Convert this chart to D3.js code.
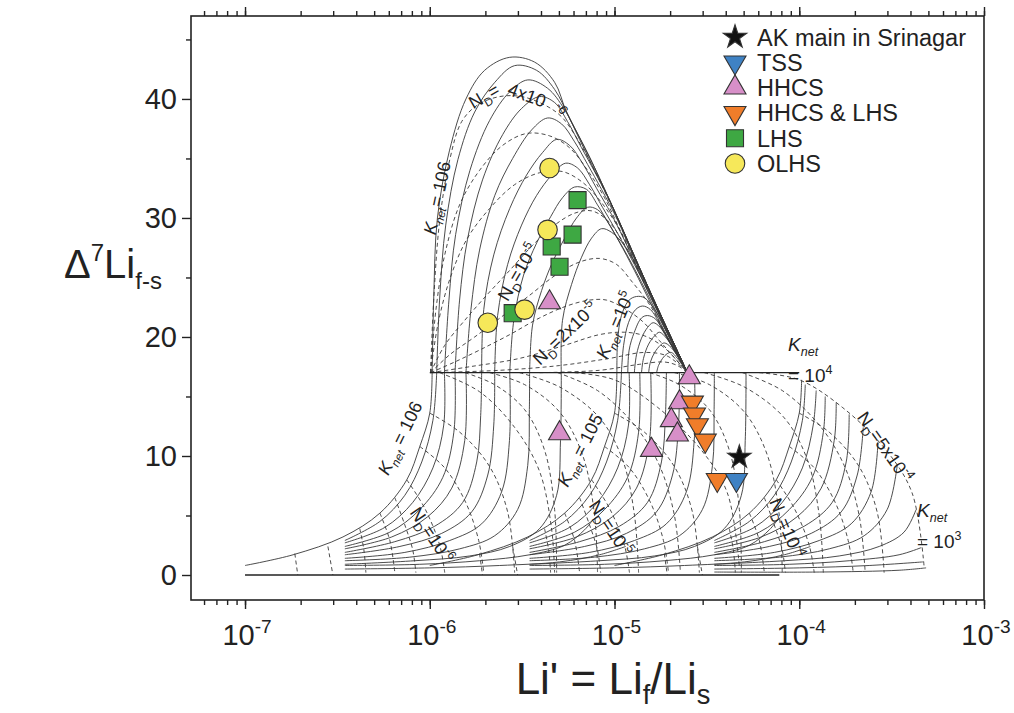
<!DOCTYPE html>
<html>
<head>
<meta charset="utf-8">
<script src="https://cdn.jsdelivr.net/npm/d3@7"></script>
<style>
  body { margin: 0; background: #fff; }
  svg { font-family: "Liberation Sans", Arial, sans-serif; }
</style>
</head>
<body>
<div id="chart"></div>
<script>
// ---- axis ticks ----
var xTicksMajor = [1e-7, 1e-6, 1e-5, 1e-4, 1e-3];
var xTickExp = ["-7", "-6", "-5", "-4", "-3"];
var yTicksMajor = [0, 10, 20, 30, 40];
var yTicksMinor = [5, 15, 25, 35, 45];

// ---- sample groups: [Li', delta7Li] ----
var akMain = [[4.74e-5, 9.9]];
var tss = [[4.57e-5, 8.0]];
var hhcs = [[4.45e-6, 22.9], [5.04e-6, 11.9], [1.585e-5, 10.5], [2.54e-5, 16.6], [2.25e-5, 14.5], [2.03e-5, 13.0], [2.19e-5, 11.8]];
var hhcsLhs = [[2.64e-5, 14.5], [2.71e-5, 13.5], [2.81e-5, 12.6], [3.10e-5, 11.3], [3.60e-5, 8.0]];
var lhs = [[6.31e-6, 31.5], [5.93e-6, 28.6], [4.57e-6, 27.6], [5.04e-6, 25.9], [2.81e-6, 22.0]];
var olhs = [[4.45e-6, 34.2], [4.34e-6, 29.0], [3.26e-6, 22.3], [2.06e-6, 21.2]];

// ---- model grid, upper bell: K_net curves (solid) ----
var kNetUpper = [
  [[1.03e-6,17],[1.05e-6,23.1],[1.1e-6,30],[1.28e-6,35.7],[1.57e-6,40],[1.98e-6,42.4],[2.71e-6,43.5],[3.69e-6,43.1],[4.74e-6,41.4],[5.5e-6,38.9],[7.33e-6,35.1],[9.4e-6,31.5],[1.55e-5,23.9],[2.48e-5,17]],
  [[1.09e-6,17],[1.13e-6,23.1],[1.22e-6,29.4],[1.42e-6,34.9],[1.75e-6,38.9],[2.25e-6,41.4],[2.88e-6,42.8],[3.79e-6,42.4],[4.74e-6,40.8],[5.71e-6,38.4],[7.33e-6,35.1],[9.4e-6,31.5],[1.55e-5,23.9],[2.48e-5,17]],
  [[1.2e-6,17],[1.27e-6,23.1],[1.38e-6,28.6],[1.65e-6,34],[2.11e-6,38.2],[2.71e-6,40.6],[3.39e-6,41.6],[4.34e-6,40.9],[5.37e-6,39.1],[6.47e-6,36.6],[7.8e-6,34],[9.4e-6,31.5],[1.55e-5,23.9],[2.48e-5,17]],
  [[1.37e-6,17],[1.45e-6,23.1],[1.6e-6,28.2],[1.93e-6,33.2],[2.48e-6,37],[3.14e-6,39.2],[3.93e-6,40.2],[4.74e-6,39.7],[5.57e-6,38.1],[6.63e-6,35.9],[7.99e-6,33.6],[9.63e-6,31.1],[1.55e-5,23.9],[2.48e-5,17]],
  [[1.57e-6,17],[1.67e-6,22.3],[1.86e-6,27.3],[2.25e-6,31.9],[2.81e-6,35.0],[3.56e-6,37.4],[4.34e-6,38.4],[5.17e-6,37.9],[6.08e-6,36.4],[7.15e-6,34.5],[8.51e-6,32.4],[1.04e-5,29.8],[1.28e-5,26.6],[1.65e-5,22.9],[2.48e-5,17]],
  [[1.909e-6,17],[1.96e-6,22.3],[2.22e-6,26.9],[2.71e-6,30.8],[3.34e-6,33.6],[4.08e-6,35.5],[4.86e-6,36.6],[5.71e-6,36.1],[6.71e-6,34.6],[7.99e-6,32.5],[9.63e-6,30.3],[1.2e-5,27.3],[1.55e-5,23.5],[1.98e-5,20.2],[2.48e-5,17]],
  [[2.246e-6,17],[2.33e-6,21.8],[2.64e-6,26.1],[3.14e-6,29.4],[3.79e-6,31.9],[4.57e-6,33.6],[5.43e-6,34.6],[6.31e-6,34.2],[7.33e-6,32.8],[8.61e-6,30.9],[1.04e-5,28.7],[1.28e-5,26.1],[1.65e-5,22.7],[2.03e-5,19.7],[2.48e-5,17]],
  [[2.71e-6,17],[2.85e-6,21.4],[3.22e-6,25.2],[3.79e-6,27.9],[4.51e-6,30.1],[5.23e-6,31.7],[6.08e-6,32.6],[7.06e-6,32.4],[8.09e-6,31.1],[9.4e-6,29.4],[1.13e-5,27.3],[1.4e-5,24.6],[1.75e-5,21.6],[2.11e-5,19.2],[2.48e-5,17]],
  [[3.47e-6,17],[3.6e-6,21.0],[4.03e-6,23.9],[4.62e-6,26.3],[5.37e-6,28.3],[6.23e-6,30.0],[7.15e-6,30.9],[8.09e-6,30.7],[9.16e-6,29.7],[1.06e-5,28.0],[1.28e-5,25.6],[1.585e-5,22.7],[1.98e-5,19.7],[2.48e-5,17]],
  [[5.15e-6,17],[5.23e-6,21.4],[5.85e-6,24.4],[6.63e-6,26.7],[7.51e-6,28.3],[8.51e-6,29.1],[9.63e-6,28.8],[1.13e-5,27.7],[1.33e-5,25.8],[1.585e-5,23.4],[1.93e-5,20.3],[2.48e-5,17]],
  [[1.03e-5,17],[1.04e-5,19.7],[1.09e-5,21.8],[1.2e-5,23.1],[1.315e-5,23.4],[1.45e-5,23.3],[1.65e-5,22.3],[1.86e-5,20.8],[2.14e-5,18.9],[2.48e-5,17]],
  [[1.09e-5,17],[1.12e-5,19.3],[1.19e-5,21.2],[1.3e-5,22.3],[1.42e-5,22.6],[1.565e-5,22.3],[1.77e-5,21.0],[2.03e-5,19.3],[2.48e-5,17]],
  [[1.18e-5,17],[1.2e-5,18.9],[1.28e-5,20.4],[1.4e-5,21.6],[1.51e-5,21.8],[1.67e-5,21.5],[1.86e-5,20.3],[2.14e-5,18.7],[2.48e-5,17]],
  [[1.28e-5,17],[1.315e-5,18.5],[1.4e-5,19.9],[1.51e-5,20.8],[1.62e-5,21.2],[1.77e-5,20.8],[1.98e-5,19.7],[2.48e-5,17]],
  [[1.4e-5,17],[1.435e-5,18.2],[1.53e-5,19.4],[1.65e-5,20.1],[1.75e-5,20.4],[1.91e-5,19.9],[2.14e-5,18.7],[2.48e-5,17]],
  [[1.53e-5,17],[1.565e-5,17.9],[1.65e-5,18.7],[1.77e-5,19.3],[1.86e-5,19.5],[2.03e-5,19.1],[2.48e-5,17]],
  [[1.69e-5,17],[1.73e-5,17.6],[1.82e-5,18.2],[1.93e-5,18.6],[2.03e-5,18.7],[2.19e-5,18.2],[2.48e-5,17]]
];

// ---- upper bell: N_D curves (dashed), first one is N_D = 4x10^-6 ----
var nDUpper = [
  [[1.01e-6,17],[1.05e-6,23.1],[1.132e-6,29.8],[1.283e-6,34.9],[1.489e-6,38.1],[1.817e-6,39.5],[2.39e-6,40.2],[3.14e-6,40.2],[4.18e-6,39.5],[5.17e-6,38.5],[6.31e-6,36.6],[7.8e-6,34.0],[9.63e-6,31.0],[1.55e-5,23.8],[2.48e-5,17]],
  [[1.01e-6,17],[1.08e-6,22.3],[1.205e-6,26.9],[1.45e-6,31.1],[1.86e-6,34.0],[2.48e-6,36.1],[3.34e-6,37.1],[4.45e-6,36.9],[5.71e-6,35.9],[7.15e-6,34.0],[8.83e-6,31.7],[1.13e-5,28.2],[1.55e-5,23.8],[2.48e-5,17]],
  [[1.01e-6,17],[1.105e-6,21.0],[1.28e-6,24.8],[1.585e-6,28.2],[2.11e-6,30.8],[2.88e-6,32.8],[3.93e-6,33.8],[5.23e-6,33.9],[6.71e-6,33.0],[8.3e-6,31.5],[1.04e-5,29.3],[1.315e-5,26.3],[1.65e-5,22.9],[2.48e-5,17]],
  [[1.01e-6,17],[1.205e-6,19.3],[1.546e-6,21.4],[2.03e-6,23.5],[2.71e-6,25.6],[3.6e-6,27.7],[4.74e-6,29.4],[6.08e-6,30.4],[7.51e-6,30.6],[9.16e-6,29.8],[1.12e-5,27.9],[1.4e-5,25.0],[1.795e-5,21.6],[2.48e-5,17]],
  [[1.01e-6,17],[1.28e-6,18.5],[1.75e-6,20.0],[2.45e-6,21.7],[3.47e-6,23.5],[4.8e-6,25.2],[6.47e-6,26.3],[8.3e-6,26.6],[1.025e-5,26.1],[1.25e-5,24.6],[1.55e-5,22.7],[1.93e-5,20.0],[2.48e-5,17]],
  [[1.01e-6,17],[1.365e-6,17.9],[1.86e-6,18.9],[2.71e-6,20.2],[3.93e-6,21.6],[5.5e-6,22.6],[7.33e-6,23.1],[9.05e-6,23.1],[1.13e-5,22.4],[1.42e-5,21.3],[1.75e-5,19.7],[2.48e-5,17]],
  [[1.01e-6,17],[1.645e-6,17.5],[3.06e-6,18.2],[5.37e-6,19.3],[8.3e-6,20.2],[1.13e-5,20.4],[1.45e-5,20.1],[1.86e-5,19.1],[2.48e-5,17]],
  [[1.01e-6,17],[2.39e-6,17.2],[5.04e-6,17.6],[9.4e-6,18.2],[1.45e-5,18.7],[1.93e-5,18.4],[2.48e-5,17]],
  [[3.93e-6,17],[8.3e-6,17.2],[1.36e-5,17.7],[1.86e-5,17.9],[2.19e-5,17.6],[2.48e-5,17]]
];

// ---- lower grid, K_net curves (solid), one family per decade ----
var kNetBlockA = [
  [[1e-7,0.8],[1.82e-7,1.7],[3.39e-7,3.2],[5.37e-7,5.2],[7.51e-7,8.0],[8.83e-7,10.8],[1e-6,13.6],[1.03e-6,17]],
  [[3.47e-7,2.9],[5.37e-7,4.5],[7.33e-7,6.7],[9.05e-7,9.5],[1.04e-6,13.0],[1.09e-6,17]],
  [[3.47e-7,2.7],[5.71e-7,4.0],[8.09e-7,6.1],[1.04e-6,9.0],[1.19e-6,12.6],[1.2e-6,17]],
  [[3.47e-7,2.4],[6.08e-7,3.6],[8.83e-7,5.5],[1.176e-6,8.2],[1.35e-6,12.0],[1.37e-6,17]],
  [[3.47e-7,2.2],[6.23e-7,3.2],[9.75e-7,4.9],[1.315e-6,7.3],[1.546e-6,11.3],[1.57e-6,17]],
  [[3.47e-7,1.9],[6.47e-7,2.8],[1.064e-6,4.1],[1.508e-6,6.1],[1.795e-6,9.5],[1.886e-6,13.4],[1.909e-6,17]],
  [[3.47e-7,1.7],[6.89e-7,2.4],[1.161e-6,3.5],[1.686e-6,5.3],[2.06e-6,8.4],[2.22e-6,12.6],[2.246e-6,17]],
  [[3.47e-7,1.4],[7.33e-7,1.9],[1.283e-6,2.9],[1.909e-6,4.3],[2.45e-6,7.0],[2.7e-6,11.3],[2.71e-6,17]],
  [[3.47e-7,1.2],[7.8e-7,1.5],[1.453e-6,2.2],[2.246e-6,3.3],[2.99e-6,5.5],[3.39e-6,9.2],[3.46e-6,13.9],[3.47e-6,17]],
  [[3.47e-7,0.9],[8.3e-7,1.2],[1.645e-6,1.6],[2.71e-6,2.4],[3.93e-6,3.9],[4.86e-6,6.7],[5.1e-6,11.3],[5.15e-6,17]],
  [[3.47e-7,0.8],[8.83e-7,0.9],[1.86e-6,1.2],[3.47e-6,1.7],[5.37e-6,2.5],[6.89e-6,3.8],[7.6e-6,4.6]],
  [[3.47e-7,0.5],[1e-6,0.6],[2.39e-6,0.8],[5.04e-6,1.1],[8.3e-6,1.7],[1.15e-5,2.4]]
];
var kNetBlockB = [
  [[1e-6,0.8],[1.82e-6,1.7],[3.39e-6,3.2],[5.37e-6,5.2],[7.51e-6,8.0],[8.83e-6,10.8],[1e-5,13.6],[1.03e-5,17]],
  [[3.47e-6,2.9],[5.37e-6,4.5],[7.33e-6,6.7],[9.05e-6,9.5],[1.04e-5,13.0],[1.09e-5,17]],
  [[3.47e-6,2.7],[5.71e-6,4.0],[8.09e-6,6.1],[1.04e-5,9.0],[1.19e-5,12.6],[1.2e-5,17]],
  [[3.47e-6,2.4],[6.08e-6,3.6],[8.83e-6,5.5],[1.176e-5,8.2],[1.35e-5,12.0],[1.37e-5,17]],
  [[3.47e-6,2.2],[6.23e-6,3.2],[9.75e-6,4.9],[1.315e-5,7.3],[1.546e-5,11.3],[1.57e-5,17]],
  [[3.47e-6,1.9],[6.47e-6,2.8],[1.064e-5,4.1],[1.508e-5,6.1],[1.795e-5,9.5],[1.886e-5,13.4],[1.909e-5,17]],
  [[3.47e-6,1.7],[6.89e-6,2.4],[1.161e-5,3.5],[1.686e-5,5.3],[2.06e-5,8.4],[2.22e-5,12.6],[2.246e-5,17]],
  [[3.47e-6,1.4],[7.33e-6,1.9],[1.283e-5,2.9],[1.909e-5,4.3],[2.45e-5,7.0],[2.7e-5,11.3],[2.71e-5,17]],
  [[3.47e-6,1.2],[7.8e-6,1.5],[1.453e-5,2.2],[2.246e-5,3.3],[2.99e-5,5.5],[3.39e-5,9.2],[3.46e-5,13.9],[3.47e-5,17]],
  [[3.47e-6,0.9],[8.3e-6,1.2],[1.645e-5,1.6],[2.71e-5,2.4],[3.93e-5,3.9],[4.86e-5,6.7],[5.1e-5,11.3],[5.15e-5,17]],
  [[3.47e-6,0.8],[8.83e-6,0.9],[1.86e-5,1.2],[3.47e-5,1.7],[5.37e-5,2.5],[6.89e-5,3.8],[7.6e-5,4.6]],
  [[3.47e-6,0.5],[1e-5,0.6],[2.39e-5,0.8],[5.04e-5,1.1],[8.3e-5,1.7],[1.15e-4,2.4]]
];
var kNetBlockC = [
  [[1e-5,0.8],[1.82e-5,1.7],[3.39e-5,3.2],[5.37e-5,5.2],[7.51e-5,8.0],[8.83e-5,10.8],[1e-4,13.6],[1.03e-4,16.4]],
  [[3.47e-5,2.9],[5.37e-5,4.5],[7.33e-5,6.7],[9.05e-5,9.5],[1.04e-4,13.0],[1.078e-4,16.0]],
  [[3.47e-5,2.7],[5.71e-5,4.0],[8.09e-5,6.1],[1.04e-4,9.0],[1.19e-4,12.6],[1.235e-4,15.5]],
  [[3.47e-5,2.4],[6.08e-5,3.6],[8.83e-5,5.5],[1.176e-4,8.2],[1.35e-4,12.0],[1.382e-4,15.0]],
  [[3.47e-5,2.2],[6.23e-5,3.2],[9.75e-5,4.9],[1.315e-4,7.3],[1.546e-4,11.3],[1.585e-4,14.5]],
  [[3.47e-5,1.9],[6.47e-5,2.8],[1.064e-4,4.1],[1.508e-4,6.1],[1.795e-4,9.5],[1.863e-4,13.5]],
  [[3.47e-5,1.7],[6.89e-5,2.4],[1.161e-4,3.5],[1.686e-4,5.3],[2.06e-4,8.4],[2.22e-4,12.4]],
  [[3.47e-5,1.4],[7.33e-5,1.9],[1.283e-4,2.9],[1.909e-4,4.3],[2.45e-4,7.0],[2.67e-4,11.2]],
  [[3.47e-5,1.2],[7.8e-5,1.5],[1.453e-4,2.2],[2.246e-4,3.3],[2.99e-4,5.5],[3.39e-4,9.2]],
  [[3.47e-5,0.9],[8.3e-5,1.2],[1.645e-4,1.6],[2.71e-4,2.4],[3.69e-4,3.6],[4.29e-4,5.5]],
  [[3.47e-5,0.8],[8.83e-5,0.9],[1.863e-4,1.2],[3.47e-4,1.7],[4.57e-4,2.3]],
  [[3.47e-5,0.5],[1e-4,0.6],[2.39e-4,0.8],[4.67e-4,1.1]],
  [[3.47e-5,0.25],[1.283e-4,0.25],[3.47e-4,0.4],[4.86e-4,0.6]]
];

// ---- lower grid, N_D curves (dashed) ----
var nDBlockA = [
  [[1.86e-7,1.8],[1.93e-7,0]],
  [[2.81e-7,2.4],[2.99e-7,0]],
  [[4.18e-7,3.9],[4.4e-7,2.1],[4.51e-7,0.2]],
  [[5.37e-7,5.2],[6.08e-7,2.9],[6.47e-7,0.2]],
  [[6.47e-7,6.5],[7.33e-7,4.2],[8.09e-7,2.1],[8.41e-7,0.2]],
  [[7.51e-7,8.0],[9.4e-7,5.6],[1.132e-6,2.5],[1.205e-6,0.2]],
  [[8.83e-7,10.8],[1.205e-6,9.0],[1.565e-6,6.1],[1.84e-6,2.9],[1.96e-6,0.2]],
  [[1e-6,13.6],[1.453e-6,12.0],[2.11e-6,9.1],[2.64e-6,5.3],[2.88e-6,0.2]],
  [[1.132e-6,17],[1.86e-6,15.4],[2.88e-6,12.4],[3.93e-6,8.7],[4.57e-6,3.8],[4.74e-6,0.2]]
];
var nDBlockB = [
  [[1.86e-6,1.8],[1.93e-6,0]],
  [[2.81e-6,2.4],[2.99e-6,0]],
  [[4.18e-6,3.9],[4.4e-6,2.1],[4.51e-6,0.2]],
  [[5.37e-6,5.2],[6.08e-6,2.9],[6.47e-6,0.2]],
  [[6.47e-6,6.5],[7.33e-6,4.2],[8.09e-6,2.1],[8.41e-6,0.2]],
  [[7.51e-6,8.0],[9.4e-6,5.6],[1.132e-5,2.5],[1.205e-5,0.2]],
  [[8.83e-6,10.8],[1.205e-5,9.0],[1.565e-5,6.1],[1.84e-5,2.9],[1.96e-5,0.2]],
  [[1e-5,13.6],[1.453e-5,12.0],[2.11e-5,9.1],[2.64e-5,5.3],[2.88e-5,0.2]],
  [[1.55e-6,17],[2.24e-6,16.0],[3.26e-6,13.9],[4.18e-6,10.5],[4.74e-6,5.5],[4.86e-6,0.2]],
  [[2.11e-6,17],[3.26e-6,16.0],[5.04e-6,13.7],[6.71e-6,10.1],[7.8e-6,5.0],[8.09e-6,0.2]],
  [[3.06e-6,17],[5.04e-6,15.8],[8.3e-6,13.2],[1.105e-5,9.7],[1.283e-5,5.0],[1.35e-5,0.2]],
  [[4.92e-6,17],[8.09e-6,15.5],[1.283e-5,12.6],[1.751e-5,9.2],[2.11e-5,5.0],[2.27e-5,0.4]],
  [[6.08e-6,17],[1e-5,16.4],[1.707e-5,14.1],[2.95e-5,10.5],[4.08e-5,6.9],[4.74e-5,0.7]]
];
var nDBlockC = [
  [[1.86e-5,1.8],[1.93e-5,0]],
  [[2.81e-5,2.4],[2.99e-5,0]],
  [[4.18e-5,3.9],[4.4e-5,2.1],[4.51e-5,0.2]],
  [[5.37e-5,5.2],[6.08e-5,2.9],[6.47e-5,0.2]],
  [[6.47e-5,6.5],[7.33e-5,4.2],[8.09e-5,2.1],[8.41e-5,0.2]],
  [[7.51e-5,8.0],[9.4e-5,5.6],[1.132e-4,2.5],[1.205e-4,0.2]],
  [[8.83e-5,10.8],[1.205e-4,9.0],[1.565e-4,6.1],[1.84e-4,2.9],[1.96e-4,0.2]],
  [[1e-4,13.6],[1.453e-4,12.0],[2.11e-4,9.1],[2.64e-4,5.3],[2.88e-4,0.2]],
  [[1.55e-5,17],[2.24e-5,16.0],[3.26e-5,13.9],[4.18e-5,10.5],[4.74e-5,5.5],[4.86e-5,0.2]],
  [[2.11e-5,17],[3.26e-5,16.0],[5.04e-5,13.7],[6.71e-5,10.1],[7.8e-5,5.0],[8.09e-5,0.2]],
  [[3.06e-5,17],[5.04e-5,15.8],[8.3e-5,13.2],[1.105e-4,9.7],[1.283e-4,5.0],[1.35e-4,0.2]],
  [[4.92e-5,17],[8.09e-5,15.5],[1.283e-4,12.6],[1.751e-4,9.2],[2.11e-4,5.0],[2.27e-4,0.4]],
  [[6.08e-5,17],[1e-4,16.4],[1.707e-4,14.1],[2.95e-4,10.5],[4.08e-4,6.9],[4.74e-4,0.7]]
];

// base line and the delta = 17 plateau
var baseLines = [
  [[1e-7,0],[7.8e-5,0]],
  [[1e-6,17],[1e-4,17]]
];

var legendNames = ["AK main in Srinagar", "TSS", "HHCS", "HHCS & LHS", "LHS", "OLHS"];

// ---------------------------------------------------------------
var svg = d3.select('#chart').append('svg')
  .attr('width', 1014)
  .attr('height', 713);

var xScale = d3.scaleLog().domain([5.1e-8, 1e-3]).range([191, 984]);
var yScale = d3.scaleLinear().domain([-2.1, 46.97]).range([600, 16]);

var line = d3.line()
  .curve(d3.curveCatmullRom.alpha(0.5))
  .x(function(d) { return xScale(d[0]); })
  .y(function(d) { return yScale(d[1]); });

function drawSet(sets, dashed, cls) {
  return svg.append('g')
    .attr('class', cls)
    .selectAll('path')
    .data(sets)
    .enter().append('path')
    .attr('d', line)
    .attr('fill', 'none')
    .attr('stroke', '#383838')
    .attr('stroke-width', 0.9)
    .attr('stroke-dasharray', dashed ? '4,3' : null);
}

drawSet(nDBlockA, true, 'ndA');
drawSet(nDBlockB, true, 'ndB');
drawSet(nDBlockC, true, 'ndC');
drawSet(nDUpper, true, 'ndUp');
drawSet(kNetBlockA, false, 'kA');
drawSet(kNetBlockB, false, 'kB');
drawSet(kNetBlockC, false, 'kC');
drawSet(kNetUpper, false, 'kUp');
drawSet(baseLines, false, 'base').attr('stroke-width', 1.3).attr('stroke', '#222');

// ---- rich text helper (sub / sup / italic) ----
function addParts(t, parts, size, scale) {
  var cur = 0;
  var sc = scale || 0.66;
  parts.forEach(function(p) {
    var off = p.sub ? size * 0.28 : (p.sup ? -size * 0.42 : 0);
    var s = t.append('tspan').attr('dy', off - cur).text(p.t);
    if (p.sub || p.sup) s.style('font-size', (size * sc) + 'px');
    if (p.it) s.style('font-style', 'italic');
    cur = off;
  });
}
function label(cx, cy, angle, parts, size, anchor) {
  var t = svg.append('text')
    .attr('transform', 'translate(' + cx + ',' + cy + ') rotate(' + angle + ')')
    .attr('y', size * 0.35)
    .attr('text-anchor', anchor || 'middle')
    .attr('fill', '#222')
    .style('font-size', size + 'px');
  addParts(t, parts, size);
  return t;
}
function kNet(rest) {
  return [{t: 'K', it: 1}, {t: 'net', sub: 1, it: 1}].concat(rest);
}
function nD(rest) {
  return [{t: 'N'}, {t: 'D', sub: 1}].concat(rest);
}

var fs = 18;
label(437, 198, -78, kNet([{t: '= 106'}]), fs);
label(518, 272, -60, nD([{t: '=10'}, {t: '-5', sup: 1}]), fs);
label(565, 333, -44, nD([{t: '=2x10'}, {t: '-5', sup: 1}]), fs);
label(615, 325, -67, kNet([{t: ' =10'}, {t: '5', sup: 1}]), fs);
label(788, 344, 0, kNet([]), 19, 'start');
label(788, 375, 0, [{t: '= 10'}, {t: '4', sup: 1}], 19, 'start');
label(885, 447, 55, nD([{t: '=5x10'}, {t: '-4', sup: 1}]), fs);
label(917, 510, 0, kNet([]), 19, 'start');
label(917, 541, 0, [{t: '= 10'}, {t: '3', sup: 1}], 19, 'start');
label(787, 528, 67, nD([{t: '=10'}, {t: '-4', sup: 1}]), fs);
label(611, 528, 56, nD([{t: '=10'}, {t: '-5', sup: 1}]), fs);
label(580, 450, -63, kNet([{t: ' = 105'}]), fs);
label(400, 438, -64, kNet([{t: ' = 106'}]), fs);
label(432, 535, 56, nD([{t: '=10'}, {t: '-6', sup: 1}]), fs);

// N_D = 4x10^-6, arched over the top of its curve in three pieces
label(484, 96, -30, nD([{t: '='}]), fs);
label(527, 95, 20, [{t: '4x10'}], fs);
label(562, 108, 55, [{t: '-6'}], 13);

// ---- axes ----
var frame = svg.append('g');
frame.append('g')
  .attr('transform', 'translate(0,600)')
  .call(d3.axisBottom(xScale).tickValues(xScale.ticks()).tickSize(5).tickFormat(''));
frame.append('g')
  .attr('transform', 'translate(0,600)')
  .call(d3.axisBottom(xScale).tickValues(xTicksMajor).tickSize(9).tickFormat(''));
frame.append('g')
  .attr('transform', 'translate(0,16)')
  .call(d3.axisTop(xScale).tickValues(xScale.ticks()).tickSize(5).tickFormat(''));
frame.append('g')
  .attr('transform', 'translate(0,16)')
  .call(d3.axisTop(xScale).tickValues(xTicksMajor).tickSize(9).tickFormat(''));
frame.append('g')
  .attr('transform', 'translate(191,0)')
  .call(d3.axisLeft(yScale).tickValues(yTicksMinor).tickSize(5).tickFormat(''));
var yAx = frame.append('g')
  .attr('transform', 'translate(191,0)')
  .call(d3.axisLeft(yScale).tickValues(yTicksMajor).tickSize(9).tickPadding(5));
yAx.selectAll('text')
  .style('font-size', '29px')
  .style('font-family', '"Liberation Sans", Arial, sans-serif')
  .attr('fill', '#222');
frame.selectAll('.domain').remove();
frame.selectAll('.tick line').attr('stroke', '#222').attr('stroke-width', 1.4);

frame.append('rect')
  .attr('x', 191).attr('y', 16)
  .attr('width', 793).attr('height', 584)
  .attr('fill', 'none')
  .attr('stroke', '#222')
  .attr('stroke-width', 1.6);

xTicksMajor.forEach(function(v, i) {
  var t = svg.append('text')
    .attr('x', xScale(v) + 2)
    .attr('y', 645)
    .attr('text-anchor', 'middle')
    .attr('fill', '#222')
    .style('font-size', '29px');
  addParts(t, [{t: '10'}, {t: xTickExp[i], sup: 1}], 29);
});

// axis titles
var xt = svg.append('text')
  .attr('x', 613).attr('y', 694)
  .attr('text-anchor', 'middle')
  .attr('fill', '#222')
  .style('font-size', '44px');
addParts(xt, [{t: "Li' = Li"}, {t: 'f', sub: 1}, {t: '/Li'}, {t: 's', sub: 1}], 34, 0.62 * 44 / 34);

var yt = svg.append('text')
  .attr('x', 64).attr('y', 278)
  .attr('fill', '#222')
  .style('font-size', '40px');
addParts(yt, [{t: '\u0394'}, {t: '7', sup: 1}, {t: 'Li'}, {t: 'f-s', sub: 1}], 40, 0.6);

// ---- sample markers ----
var groups = [
  {data: hhcs, type: d3.symbolTriangle, size: 210, rot: 0, fill: '#d78fc8'},
  {data: hhcsLhs, type: d3.symbolTriangle, size: 210, rot: 180, fill: '#f07d2a'},
  {data: lhs, type: d3.symbolSquare, size: 290, rot: 0, fill: '#3ea843'},
  {data: olhs, type: d3.symbolCircle, size: 300, rot: 0, fill: '#f6e85a'},
  {data: tss, type: d3.symbolTriangle, size: 210, rot: 180, fill: '#3f82c4'},
  {data: akMain, type: d3.symbolStar, size: 170, rot: 0, fill: '#111'}
];
groups.forEach(function(g) {
  svg.append('g').selectAll('path')
    .data(g.data)
    .enter().append('path')
    .attr('d', d3.symbol().type(g.type).size(g.size))
    .attr('transform', function(d) {
      return 'translate(' + xScale(d[0]) + ',' + yScale(d[1]) + ') rotate(' + g.rot + ')';
    })
    .attr('fill', g.fill)
    .attr('stroke', '#333')
    .attr('stroke-width', 1.1);
});

// ---- legend ----
var legendOrder = [5, 4, 0, 1, 2, 3];
var legend = svg.append('g');
legendNames.forEach(function(name, i) {
  var g = groups[legendOrder[i]];
  var ly = 37 + i * 25.3;
  legend.append('path')
    .attr('d', d3.symbol().type(g.type).size(g.size))
    .attr('transform', 'translate(735,' + ly + ') rotate(' + g.rot + ')')
    .attr('fill', g.fill)
    .attr('stroke', '#333')
    .attr('stroke-width', 1.1);
  legend.append('text')
    .attr('x', 757)
    .attr('y', ly + 8.5)
    .attr('fill', '#222')
    .style('font-size', '23.5px')
    .text(name);
});
</script>
</body>
</html>
